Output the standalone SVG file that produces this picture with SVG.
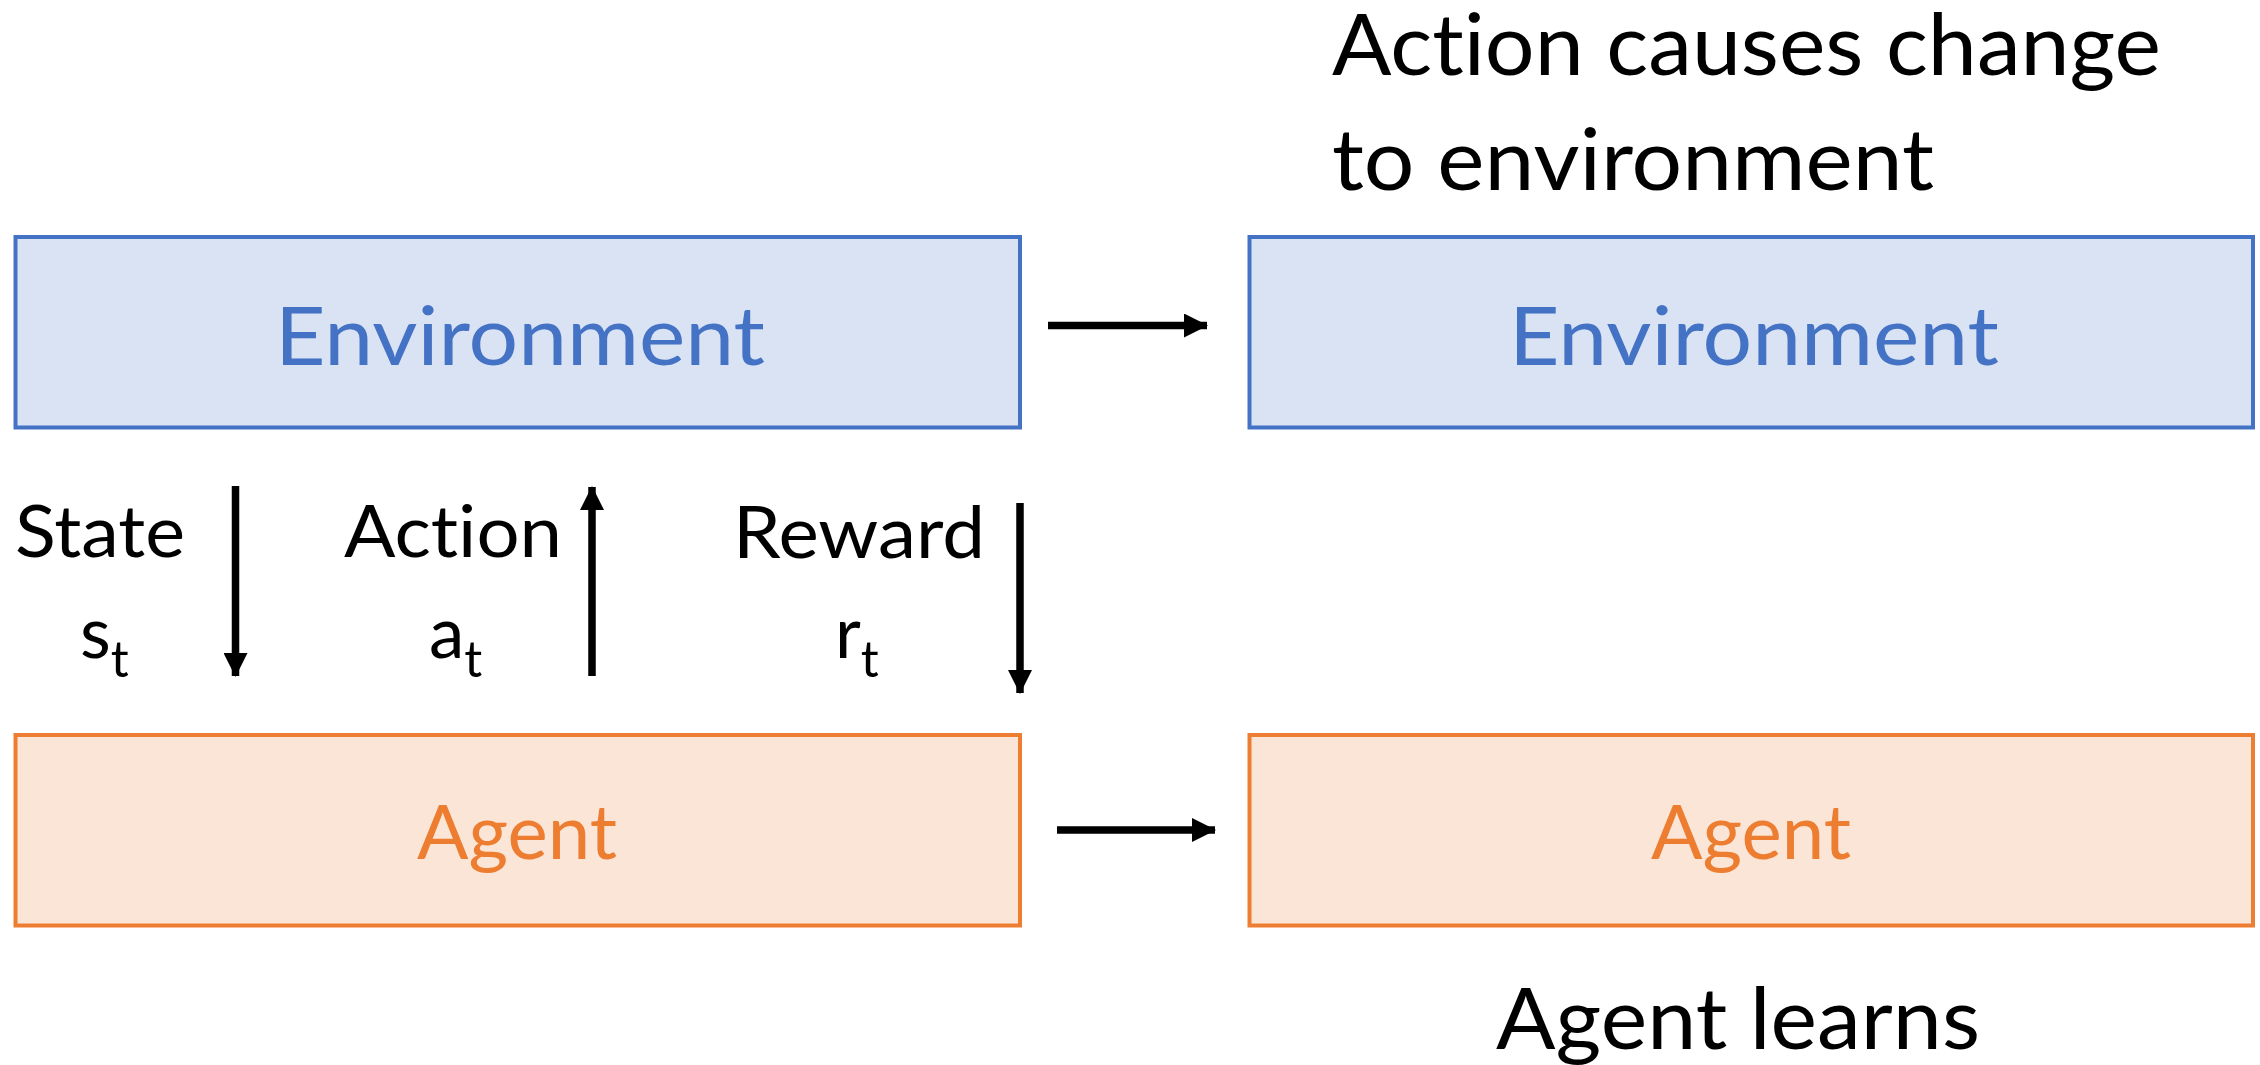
<svg xmlns="http://www.w3.org/2000/svg" width="2260" height="1065" viewBox="0 0 2260 1065">
  <style>
    text { font-family: Lato, "Open Sans", sans-serif; font-variant-ligatures: none; font-feature-settings: "liga" 0, "clig" 0; }
    .env rect { fill: #DAE3F3; stroke: #4472C4; stroke-width: 4; }
    .env text { fill: #4472C4; font-size: 82px; }
    .agent rect { fill: #FBE5D6; stroke: #ED7D31; stroke-width: 4; }
    .agent text { fill: #ED7D31; font-size: 75px; }
    .lbl { fill: #000; font-size: 71px; }
    .big { fill: #000; font-size: 85px; }
    .sub { font-size: 50px; }
    .c { stroke: #000; stroke-width: 7.5; fill: none; }
  </style>
  <defs>
    <marker id="head" markerUnits="userSpaceOnUse" markerWidth="24" markerHeight="24" refX="23" refY="12" orient="auto">
      <polygon points="0,0 24,12 0,24" fill="#000"/>
    </marker>
  </defs>

  <g id="env-left" class="env">
    <rect x="15.5" y="237" width="1004.5" height="190.5"/>
    <text x="275" y="365" textLength="490" lengthAdjust="spacingAndGlyphs">Environment</text>
  </g>
  <g id="env-right" class="env">
    <rect x="1249.5" y="237" width="1003.5" height="190.5"/>
    <text x="1509" y="365" textLength="490" lengthAdjust="spacingAndGlyphs">Environment</text>
  </g>
  <g id="agent-left" class="agent">
    <rect x="15.5" y="735" width="1004.5" height="190.5"/>
    <text x="417" y="859" textLength="200" lengthAdjust="spacingAndGlyphs">Agent</text>
  </g>
  <g id="agent-right" class="agent">
    <rect x="1249.5" y="735" width="1003.5" height="190.5"/>
    <text x="1651" y="859" textLength="200" lengthAdjust="spacingAndGlyphs">Agent</text>
  </g>

  <g id="labels">
    <text class="lbl" x="15" y="557" textLength="170" lengthAdjust="spacingAndGlyphs">State</text>
    <text class="lbl" x="80" y="658">s<tspan class="sub" dy="19">t</tspan></text>
    <text class="lbl" x="344" y="557" textLength="218" lengthAdjust="spacingAndGlyphs">Action</text>
    <text class="lbl" x="429" y="658">a<tspan class="sub" dy="19">t</tspan></text>
    <text class="lbl" x="733" y="558" textLength="252" lengthAdjust="spacingAndGlyphs">Reward</text>
    <text class="lbl" x="835" y="658">r<tspan class="sub" dy="19">t</tspan></text>
    <text class="big" x="1332" y="75" textLength="829" lengthAdjust="spacingAndGlyphs">Action causes change</text>
    <text class="big" x="1332" y="190" textLength="602" lengthAdjust="spacingAndGlyphs">to environment</text>
    <text class="big" x="1496" y="1049" textLength="484" lengthAdjust="spacingAndGlyphs">Agent learns</text>
  </g>

  <g id="connectors">
    <line class="c" x1="1048" y1="325.5" x2="1207" y2="325.5" marker-end="url(#head)"/>
    <line class="c" x1="1057" y1="830" x2="1215" y2="830" marker-end="url(#head)"/>
    <line class="c" x1="235.5" y1="486" x2="235.5" y2="676" marker-end="url(#head)"/>
    <line class="c" x1="592" y1="676" x2="592" y2="487" marker-end="url(#head)"/>
    <line class="c" x1="1020" y1="503" x2="1020" y2="693" marker-end="url(#head)"/>
  </g>
</svg>
